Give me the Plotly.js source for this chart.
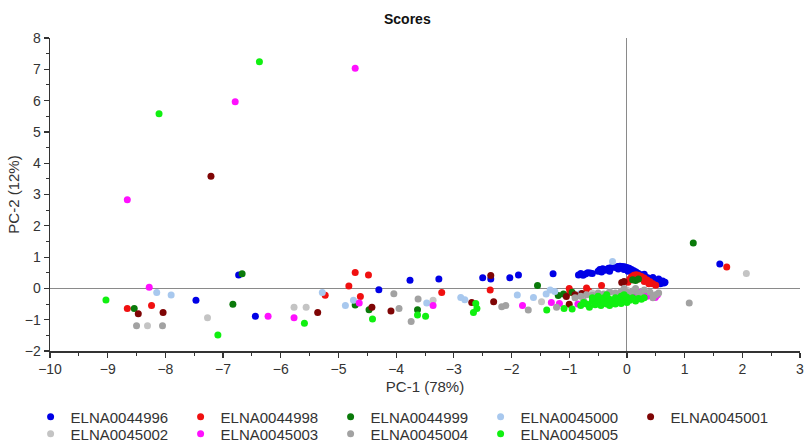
<!DOCTYPE html>
<html>
<head>
<meta charset="utf-8">
<script src="https://cdn.plot.ly/plotly-3.0.1.min.js"></script>
<style>html,body{margin:0;padding:0;background:#fff;}#chart{width:805px;height:443px;}</style>
</head>
<body>
<div id="chart"></div>
<script>
// ---- Data ----
const seriesNames = ["ELNA0044996","ELNA0044998","ELNA0044999","ELNA0045000","ELNA0045001","ELNA0045002","ELNA0045003","ELNA0045004","ELNA0045005"];

const x_ELNA0044996 = [-7.47,-6.73,-6.44,-4.30,-3.76,-3.26,-2.50,-2.36,-2.03,-1.88,-1.28,1.61,
  -0.84,-0.80,-0.76,-0.72,-0.68,-0.64,-0.60,-0.50,-0.47,-0.44,-0.42,-0.38,-0.35,-0.32,-0.28,-0.24,-0.20,-0.16,-0.12,-0.08,-0.04,0.00,0.04,0.08,0.12,0.16,0.20,0.24,0.28,0.32,0.36,0.40,0.44,0.48,0.52,0.56,0.60,0.64,0.66,
  0.02,0.10,0.18,0.26,0.34,0.42,0.50,0.58,0.62,0.55,0.45,0.30,-0.05,-0.15,-0.30];
const y_ELNA0044996 = [-0.38,0.43,-0.89,-0.04,0.26,0.30,0.34,0.30,0.34,0.43,0.47,0.78,
  0.43,0.48,0.42,0.46,0.50,0.49,0.48,0.55,0.60,0.52,0.63,0.58,0.60,0.64,0.66,0.68,0.67,0.70,0.71,0.70,0.69,0.67,0.64,0.60,0.56,0.52,0.48,0.44,0.40,0.37,0.34,0.31,0.28,0.26,0.23,0.21,0.19,0.17,0.20,
  0.55,0.50,0.42,0.36,0.30,0.25,0.20,0.15,0.24,0.30,0.35,0.45,0.60,0.62,0.55];

const x_ELNA0044998 = [-8.66,-8.24,-5.23,-4.82,-4.71,-4.48,-4.62,-3.21,-2.37,-1.00,-0.99,-0.70,-0.66,-0.44,1.73,
  0.02,0.05,0.08,0.12,0.16,0.20,0.25,0.30,0.35,0.40,0.45,0.50,0.10,0.20,0.30,0.38];
const y_ELNA0044998 = [-0.64,-0.55,-0.22,0.08,0.51,0.43,-0.26,-0.13,-0.05,0.00,-0.13,0.01,-0.08,0.09,0.68,
  0.20,0.30,0.37,0.42,0.44,0.42,0.38,0.33,0.27,0.21,0.15,0.10,0.28,0.30,0.22,0.15];

const x_ELNA0044999 = [-8.54,-6.67,-6.83,-4.71,-4.47,-3.63,-1.55,-1.19,-1.10,1.15,0.10,0.15,0.20,-0.95];
const y_ELNA0044999 = [-0.64,0.47,-0.51,-0.53,-0.68,-0.68,0.09,-0.23,-0.18,1.45,0.28,0.25,0.30,-0.12];

const x_ELNA0045000 = [-8.15,-7.90,-5.28,-4.88,-4.74,-3.47,-2.88,-2.81,-1.90,-1.62,-1.40,-1.33,-0.81,-0.25,-1.25];
const y_ELNA0045000 = [-0.13,-0.21,-0.13,-0.55,-0.38,-0.47,-0.29,-0.36,-0.21,-0.29,-0.18,-0.05,-0.16,0.86,-0.10];

const x_ELNA0045001 = [-7.21,-8.47,-8.04,-5.36,-4.42,-4.09,-2.69,-2.36,-2.31,-1.05,-1.00,-0.78,-0.09,-0.05,-0.90];
const y_ELNA0045001 = [3.58,-0.81,-0.77,-0.77,-0.60,-0.72,-0.45,0.41,-0.43,-0.26,-0.51,-0.16,0.19,0.22,-0.20];

const x_ELNA0045002 = [-8.31,-7.27,-5.77,-5.56,-3.36,-1.48,2.07,-0.60,-0.30,0.00,0.20,0.40];
const y_ELNA0045002 = [-1.19,-0.94,-0.60,-0.60,-0.38,-0.43,0.48,-0.15,-0.10,-0.05,-0.10,-0.20];

const x_ELNA0045003 = [-8.66,-6.79,-4.71,-8.28,-6.22,-5.77,-4.64,-3.36,-1.81,-1.31,-1.17,
  0.10,0.15,0.20,0.25,0.30,0.35,0.40,0.45,0.50,0.53,0.49,-0.85];
const y_ELNA0045003 = [2.83,5.96,7.03,0.04,-0.89,-0.94,-0.47,-0.55,-0.55,-0.45,-0.48,
  -0.10,-0.15,-0.12,-0.20,-0.15,-0.25,-0.20,-0.28,-0.25,-0.20,-0.29,-0.50];

const x_ELNA0045004 = [-8.50,-8.05,-4.04,-3.95,-3.62,-3.74,-2.17,-2.10,-1.71,-1.22,1.08,
  -0.90,-0.80,-0.70,-0.60,-0.50,-0.40,-0.30,-0.20,-0.10,0.00,0.10,0.20,0.30,0.40,0.50,0.55,-0.75,-0.55,0.05,0.25,0.45,-0.35,-0.15,0.15,-0.05];
const y_ELNA0045004 = [-1.19,-1.19,-0.17,-0.64,-0.34,-1.06,-0.59,-0.55,-0.69,-0.60,-0.47,
  -0.30,-0.25,-0.20,-0.22,-0.15,-0.18,-0.12,-0.15,-0.10,-0.12,-0.08,-0.15,-0.05,-0.12,-0.20,-0.15,-0.40,-0.35,-0.25,-0.25,-0.30,-0.30,-0.28,0.00,0.00];

const x_ELNA0045005 = [-6.37,-8.11,-9.03,-7.09,-5.59,-4.41,-3.63,-3.49,-2.62,-2.60,-2.66,-1.39,-1.09,-0.95,
  -0.80,-0.75,-0.70,-0.65,-0.60,-0.55,-0.50,-0.45,-0.40,-0.40,-0.35,-0.30,-0.30,-0.25,-0.20,-0.20,-0.15,-0.10,-0.10,-0.05,0.00,0.00,0.05,0.10,0.15,0.20,0.25,0.30,-0.50,-0.60,-0.35,-0.05];
const y_ELNA0045005 = [7.24,5.58,-0.37,-1.49,-1.11,-0.98,-0.85,-0.89,-0.48,-0.64,-0.77,-0.69,-0.64,-0.66,
  -0.55,-0.45,-0.50,-0.60,-0.42,-0.52,-0.38,-0.55,-0.30,-0.45,-0.50,-0.35,-0.55,-0.42,-0.30,-0.50,-0.38,-0.25,-0.48,-0.35,-0.28,-0.45,-0.38,-0.30,-0.40,-0.32,-0.35,-0.30,-0.25,-0.30,-0.20,-0.20];

const xSeries = [x_ELNA0044996,x_ELNA0044998,x_ELNA0044999,x_ELNA0045000,x_ELNA0045001,x_ELNA0045002,x_ELNA0045003,x_ELNA0045004,x_ELNA0045005];
const ySeries = [y_ELNA0044996,y_ELNA0044998,y_ELNA0044999,y_ELNA0045000,y_ELNA0045001,y_ELNA0045002,y_ELNA0045003,y_ELNA0045004,y_ELNA0045005];

// ---- Styles ----
const seriesColors = ["#0000e6","#f01010","#0a7a0a","#a8c8ee","#7f0505","#c4c4c4","#ff10ff","#a2a2a2","#10f010"];

const traces = seriesNames.map((name, i) => ({
  type: "scatter",
  mode: "markers",
  name: name,
  x: xSeries[i],
  y: ySeries[i],
  legend: i < 5 ? "legend" : "legend2",
  marker: {color: seriesColors[i], size: 7, line: {width: 0}}
}));

const axisCommon = {
  showgrid: false,
  showline: true,
  linecolor: "#333",
  linewidth: 1.5,
  ticks: "outside",
  ticklen: 5,
  tickwidth: 1.2,
  tickcolor: "#333",
  zeroline: true,
  zerolinecolor: "#8a8a8a",
  zerolinewidth: 1,
  tickfont: {family: "Liberation Sans, Arial, sans-serif", size: 14, color: "#333"},
  minor: {dtick: 0.5, ticks: "outside", ticklen: 3, tickcolor: "#333", tickwidth: 1, showgrid: false}
};

const legendCommon = {orientation: "h", xref: "container", x: 0.038, xanchor: "left", yref: "container", yanchor: "middle",
  font: {size: 15, color: "#333"}, entrywidth: 105, entrywidthmode: "pixels", itemwidth: 30, tracegroupgap: 0, bgcolor: "rgba(0,0,0,0)"};

const layout = {
  width: 805,
  height: 443,
  margin: {l: 50, r: 5, t: 38, b: 92},
  paper_bgcolor: "#fff",
  plot_bgcolor: "#fff",
  font: {family: "Liberation Sans, Arial, sans-serif", size: 14, color: "#333"},
  title: {text: "<b>Scores</b>", x: 0.506, xanchor: "center", y: 0.957, yanchor: "middle", yref: "container", font: {size: 14, color: "#111"}},
  xaxis: Object.assign({}, axisCommon, {range: [-10, 3], dtick: 1, tick0: 0, automargin: "height",
    title: {text: "PC-1 (78%)", font: {size: 15, color: "#333"}, standoff: 5}}),
  yaxis: Object.assign({}, axisCommon, {range: [-2, 8], dtick: 1, tick0: 0, automargin: "width",
    title: {text: "PC-2 (12%)", font: {size: 15, color: "#333"}, standoff: 1}}),
  showlegend: true,
  legend: Object.assign({}, legendCommon, {y: 0.0587}),
  legend2: Object.assign({}, legendCommon, {y: 0.0203}),
  hovermode: false
};

Plotly.newPlot("chart", traces, layout, {displayModeBar: false, staticPlot: true});
</script>
</body>
</html>
